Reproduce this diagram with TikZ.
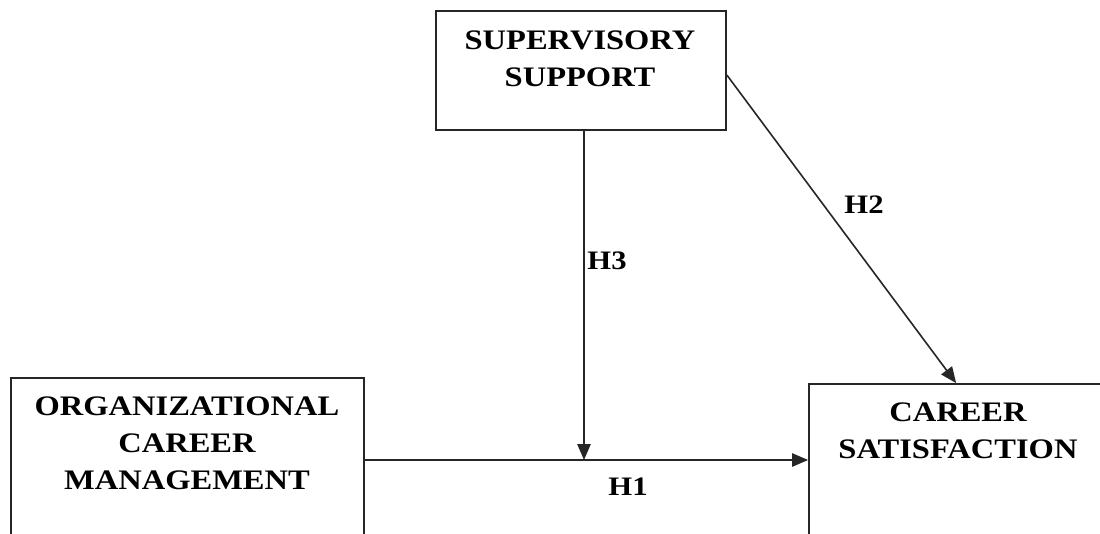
\documentclass[tikz,border=0pt]{standalone}
\usepackage{fontspec}
\setmainfont[FakeStretch=1.15]{Liberation Serif}
\usetikzlibrary{arrows.meta,fit}
\begin{document}
\begin{tikzpicture}[x=0.75pt,y=-0.75pt,
  box/.style={draw=black!85,line width=1.3pt,inner sep=0pt},
  boxtext/.style={font=\bfseries\fontsize{21.2}{27.75}\selectfont,align=center,anchor=base,inner sep=0pt},
  hlabel/.style={font=\bfseries\fontsize{20}{22}\selectfont,inner sep=0pt},
  link/.style={draw=black!85,line width=1.2pt,-{Triangle[length=12pt,width=10pt]}}]
\useasboundingbox (0,0) rectangle (1100,533);
\clip (0,0) rectangle (1100,533);
\node[box,fit={(436,11) (726,130)}] (sup) {};
\node[box,fit={(11,378) (364,600)}] (org) {};
\node[box,fit={(809,384) (1140,600)}] (car) {};
\node[boxtext] (supt) at (580,86) {SUPERVISORY\\SUPPORT};
\node[boxtext] (orgt) at (187,489) {ORGANIZATIONAL\\CAREER\\MANAGEMENT};
\node[boxtext] (cart) at (958,458) {CAREER\\SATISFACTION};
\coordinate (m) at (584,460);
\draw[link] (org.east |- m) -- (car.west |- m);
\draw[link] (sup.south -| m) -- (m);
\draw[link] ([yshift=-3.4pt]sup.east) -- ([xshift=111pt]car.north west);
\node[hlabel] (h1) at (628,487) {H1};
\node[hlabel] (h3) at (607,261) {H3};
\node[hlabel] (h2) at (864,205) {H2};
\end{tikzpicture}
\end{document}
